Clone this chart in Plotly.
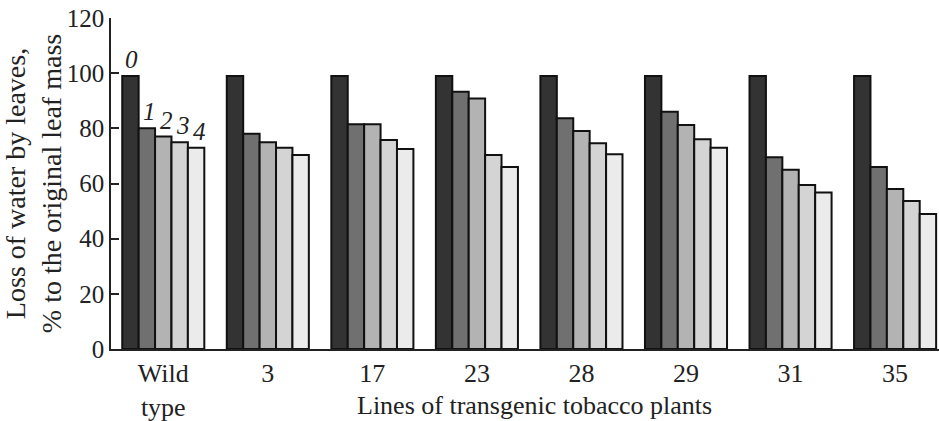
import plotly.graph_objects as go

lines = ["Wild<br>type", "3", "17", "23", "28", "29", "31", "35"]
series_names = ["0", "1", "2", "3", "4"]
s0 = [99, 99, 99, 99, 99, 99, 99, 99]
s1 = [80, 78, 81.5, 93.3, 83.7, 86, 69.5, 66]
s2 = [77, 75, 81.5, 90.8, 79, 81.2, 65, 58]
s3 = [75, 73, 75.8, 70.3, 74.6, 76, 59.5, 53.7]
s4 = [73, 70.3, 72.5, 66, 70.6, 73, 56.7, 48.9]
series = [s0, s1, s2, s3, s4]
colors = ["#333333", "#707070", "#b3b3b3", "#d4d4d4", "#ebebeb"]
yticks = [0, 20, 40, 60, 80, 100, 120]

FONT = "Liberation Serif, Times New Roman, serif"
xpos = list(range(len(lines)))

fig = go.Figure()
for name, vals, col in zip(series_names, series, colors):
    fig.add_trace(go.Bar(
        x=xpos, y=vals, name=name,
        marker=dict(color=col, line=dict(color="#111111", width=2)),
        showlegend=False,
    ))

# series labels above first group
group_w = 0.785
bw = group_w / 5
for i, (name, vals) in enumerate(zip(series_names, series)):
    xc = 0 - group_w / 2 + bw * (i + 0.5)
    fig.add_annotation(
        x=xc, y=vals[0], xref="x", yref="y", text=name, showarrow=False,
        yanchor="bottom", xanchor="center", yshift=1, xshift=(1 if i == 0 else 3),
        font=dict(family=FONT, size=25, color="#222222", style="italic"),
    )

fig.add_annotation(
    x=0.512, y=0, xref="paper", yref="paper", yshift=-40,
    text="Lines of transgenic tobacco plants", showarrow=False,
    xanchor="center", yanchor="top",
    font=dict(family=FONT, size=26, color="#222222"),
)

fig.update_layout(
    width=939, height=421,
    margin=dict(l=111, r=0, t=18, b=72),
    paper_bgcolor="white", plot_bgcolor="white",
    barmode="group", bargap=0.215, bargroupgap=0,
    font=dict(family=FONT, size=23, color="#222222"),
    xaxis=dict(
        range=[-0.5, 7.42], tickmode="array", tickvals=xpos, ticktext=lines,
        showline=True, linecolor="#222222", linewidth=1.5, ticks="",
        showgrid=False, zeroline=False, fixedrange=True,
        tickfont=dict(family=FONT, size=26, color="#222222"),
    ),
    yaxis=dict(
        range=[0, 120], tickmode="array", tickvals=yticks,
        showline=True, linecolor="#222222", linewidth=1.5,
        ticks="inside", ticklen=8, tickwidth=1.5, tickcolor="#222222",
        showgrid=False, zeroline=False,
        tickfont=dict(family=FONT, size=25, color="#222222"),
        title=dict(text="Loss of water by leaves,<br>% to the original leaf mass",
                   font=dict(family=FONT, size=28, color="#222222"), standoff=6),
    ),
)

fig.write_html("out.html", config={"displayModeBar": False},
               post_script="document.body.style.margin='0px';")
